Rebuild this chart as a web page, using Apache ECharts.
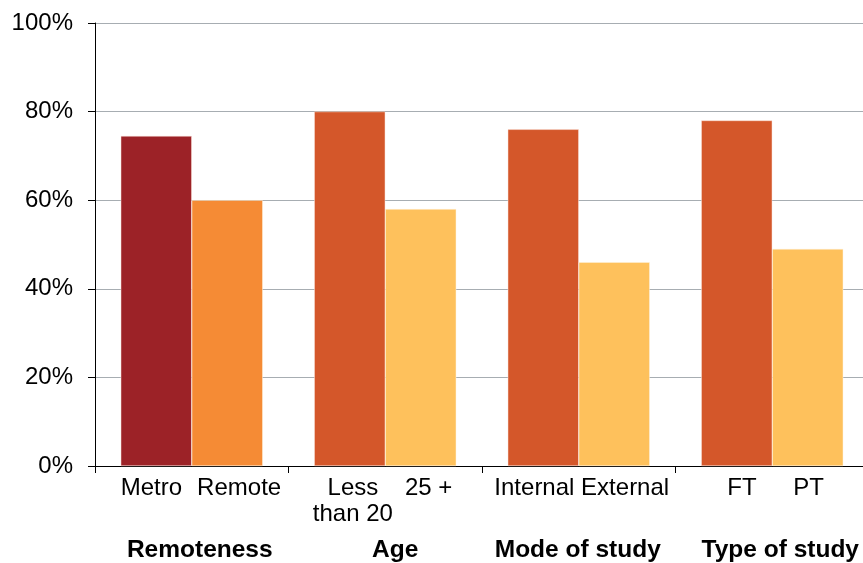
<!DOCTYPE html>
<html>
<head>
<meta charset="utf-8">
<script src="https://cdn.jsdelivr.net/npm/echarts@6/dist/echarts.min.js"></script>
<style>
  html, body { margin: 0; padding: 0; background: #fff; overflow: hidden; }
  /* the last group runs slightly past the right edge of the picture */
  #chart { width: 869px; height: 563px; }
</style>
</head>
<body>
<div id="chart"></div>
<script>
// groups along the x axis and the two bars inside each
const groups = ['Remoteness', 'Age', 'Mode of study', 'Type of study']
const subLabels = ['Metro', 'Remote', 'Less\nthan 20', '25 +', 'Internal', 'External', 'FT', 'PT']
const firstValues = [74.5, 80, 76, 78]
const secondValues = [60, 58, 46, 49]
const firstColors = ['#9c2227', '#d4572a', '#d4572a', '#d4572a']
const secondColors = ['#f58b35', '#fec15c', '#fec15c', '#fec15c']

// small horizontal nudges (px) so labels sit where the original put them
const subNudge = [8, -1, 16, -5, 4, -2, 18, -12]
const groupNudge = [8, 10, -1, 8]

const chart = echarts.init(document.getElementById('chart'))

const font = 'Liberation Sans, Arial, sans-serif'

function nudgeRich(nudges, base) {
    const rich = {}
    nudges.forEach((n, i) => {
        rich['s' + i] = Object.assign({}, base, {
            padding: n >= 0 ? [0, 0, 0, 2 * n] : [0, -2 * n, 0, 0]
        })
    })
    return rich
}

chart.setOption({
    animation: false,
    grid: {
        left: 95,
        right: 0,
        top: 23,
        bottom: 94
    },
    xAxis: [
        {
            type: 'category',
            data: groups,
            position: 'bottom',
            axisLine: { lineStyle: { color: '#000', width: 1 } },
            axisTick: { show: true, interval: 0, length: 7, lineStyle: { color: '#000' } },
            axisLabel: {
                interval: 0,
                margin: 72,
                formatter: (v, i) => '{s' + i + '|' + v + '}',
                rich: nudgeRich(groupNudge, {
                    fontFamily: font,
                    fontSize: 24.5,
                    fontWeight: 'bold',
                    color: '#000'
                })
            }
        },
        {
            type: 'category',
            data: subLabels,
            position: 'bottom',
            axisLine: { show: false },
            axisTick: { show: false },
            axisLabel: {
                interval: 0,
                margin: 9,
                formatter: (v, i) => v.split('\n').map(t => '{s' + i + '|' + t + '}').join('\n'),
                rich: nudgeRich(subNudge, {
                    fontFamily: font,
                    fontSize: 24,
                    lineHeight: 26,
                    color: '#000'
                })
            }
        }
    ],
    yAxis: {
        type: 'value',
        min: 0,
        max: 100,
        interval: 20,
        axisLine: { show: true, lineStyle: { color: '#000' } },
        axisTick: { show: true, length: 7, lineStyle: { color: '#000' } },
        axisLabel: {
            formatter: '{value}%',
            margin: 22,
            fontFamily: font,
            fontSize: 24,
            color: '#000'
        },
        splitLine: { lineStyle: { color: '#a7adb2', width: 1 } }
    },
    series: [
        {
            type: 'bar',
            xAxisIndex: 0,
            barWidth: 71,
            barGap: 0,
            data: firstValues.map((v, i) => ({
                value: v,
                itemStyle: { color: firstColors[i] }
            })),
            itemStyle: { borderColor: '#fbe3d8', borderWidth: 0.5 }
        },
        {
            type: 'bar',
            xAxisIndex: 0,
            barWidth: 71,
            barGap: 0,
            data: secondValues.map((v, i) => ({
                value: v,
                itemStyle: { color: secondColors[i] }
            })),
            itemStyle: { borderColor: '#fff3dc', borderWidth: 0.5 }
        }
    ]
})
</script>
</body>
</html>
